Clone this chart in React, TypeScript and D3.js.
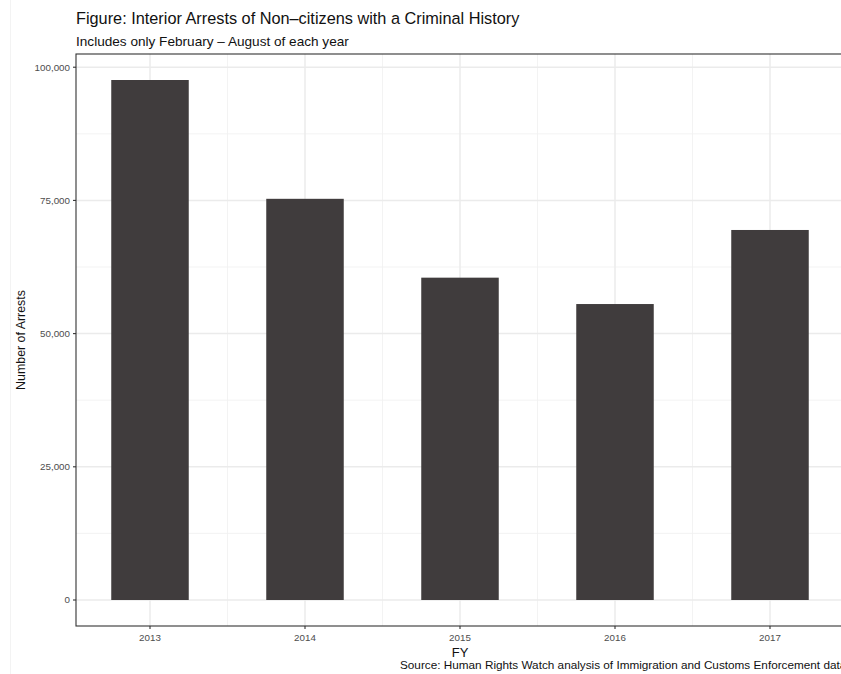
import React from "react";
import * as d3 from "d3";

const years = ["2013", "2014", "2015", "2016", "2017"];
const arrests = [97600, 75300, 60500, 55550, 69450];
const yTicks = [0, 25000, 50000, 75000, 100000];
const yMinor = [12500, 37500, 62500, 87500];

const W = 841;
const H = 674;

export default function App() {
  const panel = { left: 76, right: 845, top: 54, bottom: 626 };
  const x = d3.scalePoint<string>().domain(years).range([150, 770]);
  const step = x.step();
  const barW = step * 0.5;
  const maxV = d3.max(arrests) as number;
  const pad = maxV * 0.05;
  const y = d3.scaleLinear().domain([-pad, maxV + pad]).range([panel.bottom, panel.top]);
  const fmt = d3.format(",");
  const font = "Liberation Sans, Arial, Helvetica, sans-serif";
  const minorX = years.map((yr) => (x(yr) as number) + step / 2);

  return (
    <svg
      width={W}
      height={H}
      style={{ position: "absolute", left: 0, top: 0, background: "#fff" }}
      fontFamily={font}
    >
      <defs>
        <clipPath id="pclip">
          <rect x={panel.left} y={panel.top} width={panel.right - panel.left} height={panel.bottom - panel.top} />
        </clipPath>
      </defs>
      <line x1={10.5} x2={10.5} y1={0} y2={H} stroke="#f3f3f3" strokeWidth={1} />
      <g clipPath="url(#pclip)">
        {yMinor.map((v) => (
          <line key={"ym" + v} x1={panel.left} x2={panel.right} y1={y(v)} y2={y(v)} stroke="#f0f0f0" strokeWidth={0.8} />
        ))}
        {minorX.map((mx, i) => (
          <line key={"xm" + i} x1={mx} x2={mx} y1={panel.top} y2={panel.bottom} stroke="#f0f0f0" strokeWidth={0.8} />
        ))}
        {yTicks.map((v) => (
          <line key={"yM" + v} x1={panel.left} x2={panel.right} y1={y(v)} y2={y(v)} stroke="#ebebeb" strokeWidth={1.5} />
        ))}
        {years.map((yr) => (
          <line key={"xM" + yr} x1={x(yr)} x2={x(yr)} y1={panel.top} y2={panel.bottom} stroke="#ebebeb" strokeWidth={1.5} />
        ))}
        {years.map((yr, i) => (
          <rect
            key={"b" + yr}
            x={(x(yr) as number) - barW / 2}
            y={y(arrests[i])}
            width={barW}
            height={y(0) - y(arrests[i])}
            fill="#403c3d"
          />
        ))}
      </g>
      <rect
        x={panel.left}
        y={panel.top}
        width={panel.right - panel.left}
        height={panel.bottom - panel.top}
        fill="none"
        stroke="#333333"
        strokeWidth={1.1}
      />
      {yTicks.map((v) => (
        <g key={"yt" + v}>
          <line x1={panel.left - 3} x2={panel.left} y1={y(v)} y2={y(v)} stroke="#333" strokeWidth={1.1} />
          <text x={panel.left - 6} y={y(v)} dy="0.35em" textAnchor="end" fontSize={9.8} fill="#4d4d4d">
            {fmt(v)}
          </text>
        </g>
      ))}
      {years.map((yr) => (
        <g key={"xt" + yr}>
          <line x1={x(yr)} x2={x(yr)} y1={panel.bottom} y2={panel.bottom + 3} stroke="#333" strokeWidth={1.1} />
          <text x={x(yr)} y={panel.bottom + 15} textAnchor="middle" fontSize={9.8} fill="#4d4d4d">
            {yr}
          </text>
        </g>
      ))}
      <text x={76} y={24} fontSize={16.3} fill="#111">
        Figure: Interior Arrests of Non–citizens with a Criminal History
      </text>
      <text x={76} y={46} fontSize={13.6} fill="#111">
        Includes only February – August of each year
      </text>
      <text
        transform={`translate(25,${(panel.top + panel.bottom) / 2}) rotate(-90)`}
        textAnchor="middle"
        fontSize={12.4}
        fill="#111"
      >
        Number of Arrests
      </text>
      <text x={460} y={657} textAnchor="middle" fontSize={13} fill="#111">
        FY
      </text>
      <text x={400} y={669} fontSize={11.75} fill="#111">
        Source: Human Rights Watch analysis of Immigration and Customs Enforcement data
      </text>
    </svg>
  );
}
